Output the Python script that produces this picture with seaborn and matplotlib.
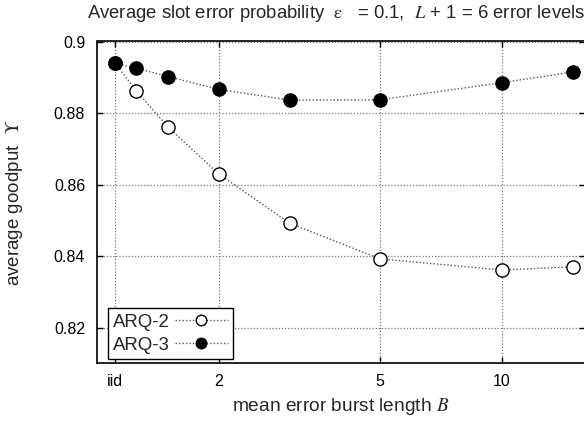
import matplotlib
matplotlib.use("Agg")
import matplotlib.pyplot as plt
import seaborn as sns
import pandas as pd
import numpy as np

# ---- data ----
burst_len = [1.11, 1.25, 1.5, 2, 3, 5, 10, 15]   # 1.11 == "iid" position
arq2 = [0.8939, 0.8862, 0.8760, 0.8629, 0.8491, 0.8392, 0.8361, 0.8370]
arq3 = [0.8939, 0.8925, 0.8902, 0.8866, 0.8836, 0.8837, 0.8885, 0.8915]
series_names = ["ARQ-2", "ARQ-3"]
xtick_vals = [1.11, 2, 5, 10]
xtick_labels = ["iid", "2", "5", "10"]
ytick_vals = [0.82, 0.84, 0.86, 0.88, 0.9]
ytick_labels = ["0.82", "0.84", "0.86", "0.88", "0.9"]

sns.set_style("ticks")
plt.rcParams["font.family"] = ["Liberation Sans", "DejaVu Sans"]
plt.rcParams["mathtext.fontset"] = "stix"

df = pd.DataFrame({
    "B": burst_len * 2,
    "goodput": arq2 + arq3,
    "scheme": [series_names[0]] * len(burst_len) + [series_names[1]] * len(burst_len),
})

fig = plt.figure(figsize=(5.84, 4.24), dpi=100)
ax = fig.add_axes([97 / 584, 60.7 / 424, 487.7 / 584, 321.8 / 424])

styles = {
    "ARQ-2": dict(mfc="white", mec="black"),
    "ARQ-3": dict(mfc="black", mec="black"),
}
for name in series_names:
    sub = df[df["scheme"] == name]
    sns.lineplot(data=sub, x="B", y="goodput", ax=ax, color="#555555",
                 linestyle=(0, (1, 1.5)), linewidth=1.0, marker="o",
                 markersize=9.5, markeredgewidth=1.0, label=name,
                 **styles[name])

ax.set_xscale("log")
ax.set_xlim(1, 16)
ax.set_ylim(0.81, 0.9)
ax.set_xticks(xtick_vals)
ax.set_xticklabels(xtick_labels)
ax.xaxis.set_minor_locator(matplotlib.ticker.NullLocator())
ax.set_yticks(ytick_vals)
ax.set_yticklabels(ytick_labels)

ax.tick_params(axis="both", which="major", direction="in", length=4, width=1,
               labelsize=11.5, top=True, right=True, colors="black")
ax.tick_params(axis="y", pad=8.5)
ax.tick_params(axis="x", pad=7.5)

ax.grid(True, color="#777777", linestyle=(0, (1, 1.5)), linewidth=0.9)
ax.set_axisbelow(True)
for s in ax.spines.values():
    s.set_color("black")
    s.set_linewidth(1.2)

ax.set_xlabel(r"mean error burst length $B$", fontsize=13.8, labelpad=5)
ax.set_ylabel(r"average goodput  $\Upsilon$", fontsize=13.5, labelpad=21)

fig.text(87 / 584, 1 - 14 / 424,
         r"Average slot error probability  $\mathrm{ε}$   = 0.1,  $L$ + 1 = 6 error levels",
         fontsize=13.3, ha="left", va="center")

leg = ax.legend(loc="lower left", bbox_to_anchor=(0.022, 0.013), borderaxespad=0,
                fontsize=13.4, markerfirst=False, handlelength=2.85,
                markerscale=0.8, frameon=True, fancybox=False,
                borderpad=0.3, labelspacing=0.32, handletextpad=0.25)
leg.get_frame().set_edgecolor("black")
leg.get_frame().set_linewidth(1.0)
leg.get_frame().set_alpha(1)

fig.savefig("out.png", dpi=100)
